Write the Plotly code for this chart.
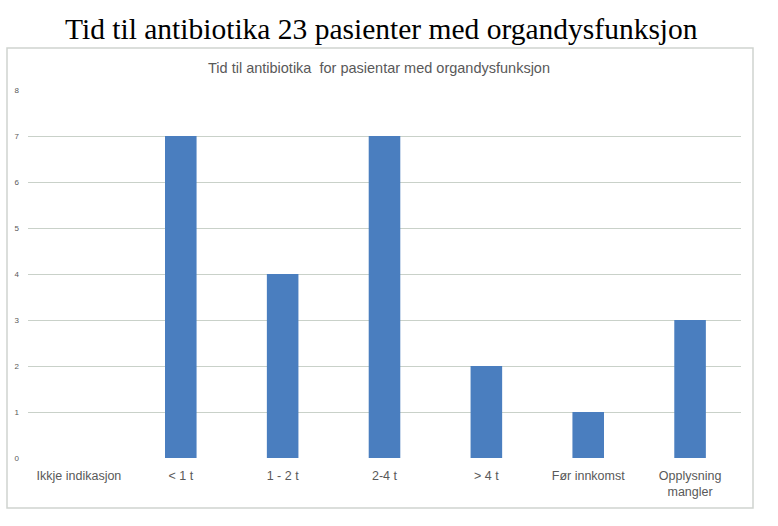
import plotly.graph_objects as go

categories = ["Ikkje indikasjon", "< 1 t", "1 - 2 t", "2-4 t", "> 4 t", "Før innkomst", "Opplysning<br>mangler"]
values = [0, 7, 4, 7, 2, 1, 3]
y_ticks = [0, 1, 2, 3, 4, 5, 6, 7, 8]

W, H = 778, 526
L, R, T, B = 28, 37, 90, 68

fig = go.Figure(go.Bar(
    x=categories, y=values,
    marker=dict(color="#4a7ebf", line=dict(width=0)),
    width=0.31,
))

fig.update_layout(
    width=W, height=H,
    margin=dict(l=L, r=R, t=T, b=B),
    paper_bgcolor="white", plot_bgcolor="white",
    showlegend=False,
    font=dict(family="Liberation Sans, Arial, sans-serif", color="#595959"),
    xaxis=dict(
        showgrid=False, zeroline=False, showline=False,
        tickfont=dict(size=12.5, color="#595959"),
        ticks="", range=[-0.5, 6.5], ticklabelstandoff=8,
    ),
    yaxis=dict(
        range=[0, 8], tickvals=y_ticks,
        showgrid=True, gridcolor="#c9d1c9", gridwidth=1,
        zeroline=False, showline=False, ticks="",
        tickfont=dict(size=8, color="#595959"),
        ticklabelstandoff=8,
    ),
    shapes=[dict(
        type="rect", xref="paper", yref="paper",
        x0=(7 - L) / (W - L - R), x1=(753 - L) / (W - L - R),
        y0=-(508 - (H - B)) / (H - T - B) , y1=1 + (T - 48) / (H - T - B),
        line=dict(color="#d0d4d0", width=1.5), fillcolor="rgba(0,0,0,0)", layer="below",
    )],
    annotations=[
        dict(text="Tid til antibiotika 23 pasienter med organdysfunksjon",
             xref="paper", yref="paper",
             x=(381 - L) / (W - L - R), y=1 + (T - 29) / (H - T - B),
             xanchor="center", yanchor="middle", showarrow=False,
             font=dict(family="Liberation Serif, serif", size=29.5, color="black")),
        dict(text="Tid til antibiotika  for pasientar med organdysfunksjon",
             xref="paper", yref="paper",
             x=(379 - L) / (W - L - R), y=1 + (T - 68) / (H - T - B),
             xanchor="center", yanchor="middle", showarrow=False,
             font=dict(family="Liberation Sans, Arial, sans-serif", size=14.5, color="#595959")),
    ],
)

fig.write_html("out.html")
